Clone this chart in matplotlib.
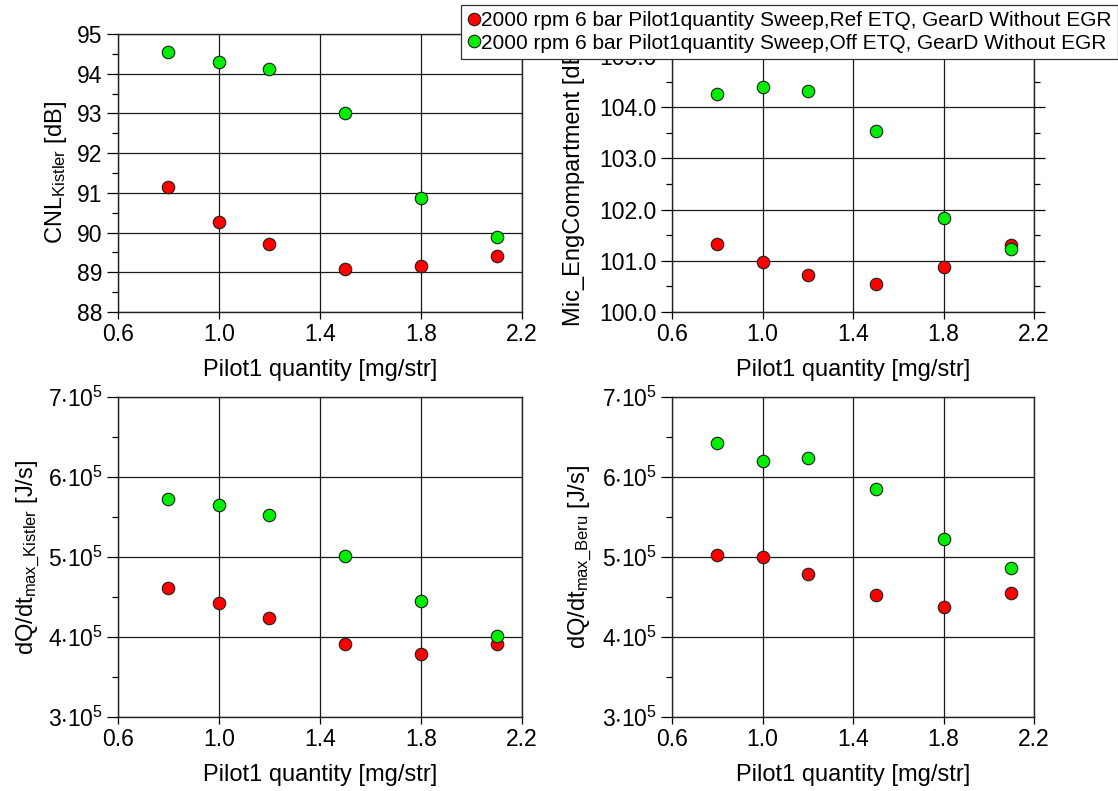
import numpy as np
import matplotlib
matplotlib.use("Agg")
import matplotlib.pyplot as plt
from matplotlib.ticker import MultipleLocator, FuncFormatter, FormatStrFormatter
from matplotlib.lines import Line2D

plt.rcParams["font.family"] = ["Liberation Sans", "DejaVu Sans"]
plt.rcParams["mathtext.fontset"] = "custom"
plt.rcParams["mathtext.rm"] = "Liberation Sans"
plt.rcParams["mathtext.it"] = "Liberation Sans:italic"

# Pilot1 quantity sweep [mg/str]
pilot_qty = [0.8, 1.0, 1.2, 1.5, 1.8, 2.1]
x_ticks = [0.6, 1.0, 1.4, 1.8, 2.2]

# Ref ETQ series
cnl_ref = [91.14, 90.26, 89.70, 89.09, 89.15, 89.41]
mic_ref = [101.33, 100.98, 100.73, 100.55, 100.87, 101.31]
dqdt_kistler_ref = [4.616e5, 4.428e5, 4.24e5, 3.906e5, 3.781e5, 3.914e5]
dqdt_beru_ref = [5.021e5, 4.996e5, 4.787e5, 4.528e5, 4.378e5, 4.545e5]

# Off ETQ series
cnl_off = [94.54, 94.29, 94.12, 93.00, 90.86, 89.90]
mic_off = [104.25, 104.39, 104.32, 103.53, 101.83, 101.23]
dqdt_kistler_off = [5.718e5, 5.647e5, 5.518e5, 5.013e5, 4.453e5, 4.015e5]
dqdt_beru_off = [6.42e5, 6.198e5, 6.232e5, 5.848e5, 5.221e5, 4.866e5]

series_names = [
    "2000 rpm 6 bar Pilot1quantity Sweep,Ref ETQ, GearD Without EGR",
    "2000 rpm 6 bar Pilot1quantity Sweep,Off ETQ, GearD Without EGR",
]
RED = "#ff0000"
GREEN = "#00ee00"

TICK_FS = 16.5
LABEL_FS = 17
MS = 9


def sci_fmt(v, pos):
    return r"$\mathregular{%d{\cdot}10^5}$" % round(v / 1e5)


def style_axes(ax, ylim, ymajor, yfmt, right_ticks=False):
    ax.set_xlim(x_ticks[0], x_ticks[-1])
    ax.set_ylim(*ylim)
    ax.set_xticks(x_ticks)
    ax.xaxis.set_major_formatter(FormatStrFormatter("%.1f"))
    ax.yaxis.set_major_locator(MultipleLocator(ymajor))
    ax.yaxis.set_minor_locator(MultipleLocator(ymajor / 2))
    ax.yaxis.set_major_formatter(yfmt)
    ax.grid(True, which="major", color="#1a1a1a", lw=0.9)
    ax.set_axisbelow(True)
    ax.tick_params(axis="x", which="major", direction="out", length=5,
                   width=0.9, labelsize=TICK_FS, pad=3)
    ax.tick_params(axis="y", which="major", direction="out", length=8,
                   width=0.9, labelsize=TICK_FS, pad=3)
    ax.tick_params(axis="y", which="minor", direction="out", length=4, width=0.9)
    ax.tick_params(axis="y", which="both", right=right_ticks)
    for sp in ax.spines.values():
        sp.set_linewidth(1.0)
        sp.set_color("#222222")
    ax.set_xlabel("Pilot1 quantity [mg/str]", fontsize=LABEL_FS, labelpad=9)


def scatter_pair(ax, y_ref, y_off):
    ax.plot(pilot_qty, y_ref, "o", ms=MS, mfc=RED, mec="#202020", mew=0.8,
            zorder=3)
    ax.plot(pilot_qty, y_off, "o", ms=MS, mfc=GREEN, mec="#202020", mew=0.8,
            zorder=3)


fig = plt.figure(figsize=(11.18, 7.91), dpi=100)

ax_cnl = fig.add_axes([0.1055, 0.6056, 0.3614, 0.3515])
ax_mic = fig.add_axes([0.6011, 0.6056, 0.3238, 0.3236])
ax_dqk = fig.add_axes([0.1055, 0.0936, 0.3614, 0.4046])
ax_dqb = fig.add_axes([0.6011, 0.0936, 0.3238, 0.4046])

scatter_pair(ax_cnl, cnl_ref, cnl_off)
style_axes(ax_cnl, (88, 95), 1, FormatStrFormatter("%d"))
ax_cnl.set_ylabel(r"CNL$_\mathregular{Kistler}$ [dB]", fontsize=LABEL_FS)
ax_cnl.yaxis.set_label_coords(-0.153, 0.5)

scatter_pair(ax_mic, mic_ref, mic_off)
style_axes(ax_mic, (100, 105), 1, FormatStrFormatter("%.1f"), right_ticks=True)
ax_mic.set_ylabel("Mic_EngCompartment [dB]", fontsize=LABEL_FS)
ax_mic.yaxis.set_label_coords(-0.27, 0.5)

scatter_pair(ax_dqk, dqdt_kistler_ref, dqdt_kistler_off)
style_axes(ax_dqk, (3e5, 7e5), 1e5, FuncFormatter(sci_fmt))
ax_dqk.set_ylabel(r"dQ/dt$_\mathregular{max\_Kistler}$ [J/s]", fontsize=LABEL_FS)
ax_dqk.yaxis.set_label_coords(-0.222, 0.5)

scatter_pair(ax_dqb, dqdt_beru_ref, dqdt_beru_off)
style_axes(ax_dqb, (3e5, 7e5), 1e5, FuncFormatter(sci_fmt))
ax_dqb.set_ylabel(r"dQ/dt$_\mathregular{max\_Beru}$ [J/s]", fontsize=LABEL_FS)
ax_dqb.yaxis.set_label_coords(-0.254, 0.5)

for ax in (ax_cnl, ax_mic, ax_dqk, ax_dqb):
    ax.yaxis.label.set_va("center")

handles = [
    Line2D([], [], ls="none", marker="o", ms=MS, mfc=RED, mec="#202020", mew=0.8),
    Line2D([], [], ls="none", marker="o", ms=MS, mfc=GREEN, mec="#202020", mew=0.8),
]
leg = fig.legend(handles, series_names, loc="upper left",
                 bbox_to_anchor=(461 / 1118, 1 - 5 / 791),
                 fontsize=15, frameon=True, fancybox=False, framealpha=1,
                 edgecolor="#333333", handlelength=0.6, handletextpad=0.05,
                 borderpad=0.3, labelspacing=0.17, borderaxespad=0)
leg.get_frame().set_linewidth(0.9)
leg.set_zorder(10)

fig.savefig("out.png", dpi=100)
